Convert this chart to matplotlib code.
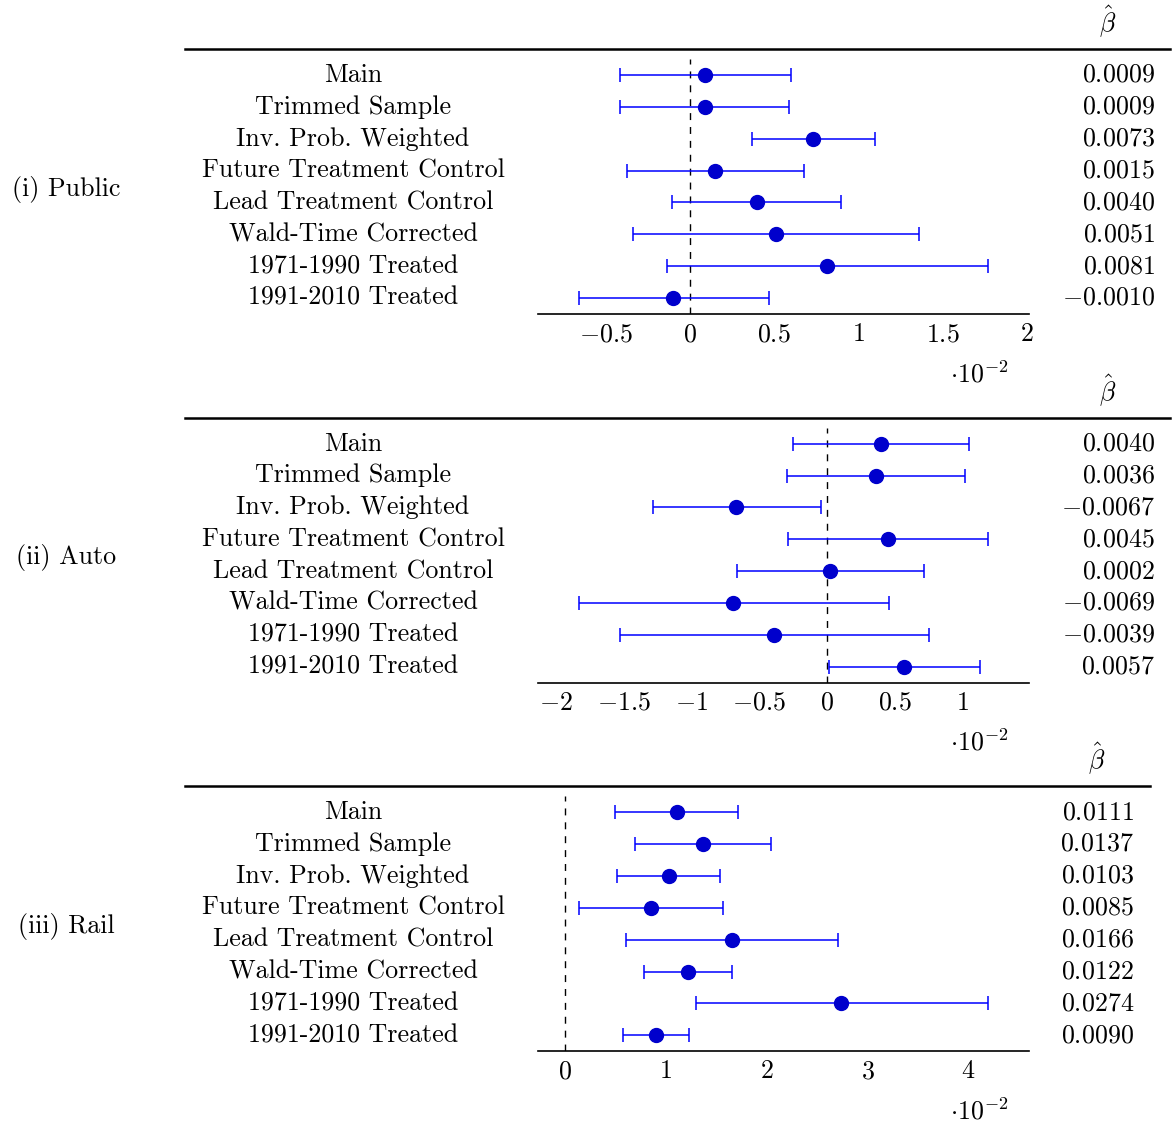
import numpy as np
import matplotlib
matplotlib.use("Agg")
import matplotlib.pyplot as plt
from matplotlib.ticker import FuncFormatter
import matplotlib.transforms as mtransforms

plt.rcParams['font.family'] = 'cmr10'
plt.rcParams['mathtext.fontset'] = 'cm'
plt.rcParams['axes.unicode_minus'] = False
plt.rcParams['axes.formatter.use_mathtext'] = True

FS = 18.7

specs = ["Main", "Trimmed Sample", "Inv. Prob. Weighted", "Future Treatment Control",
         "Lead Treatment Control", "Wald-Time Corrected", "1971-1990 Treated",
         "1991-2010 Treated"]

groups = ["(i) Public", "(ii) Auto", "(iii) Rail"]

# point estimates
beta_public = [0.0009, 0.0009, 0.0073, 0.0015, 0.0040, 0.0051, 0.0081, -0.0010]
beta_auto = [0.0040, 0.0036, -0.0067, 0.0045, 0.0002, -0.0069, -0.0039, 0.0057]
beta_rail = [0.0111, 0.0137, 0.0103, 0.0085, 0.0166, 0.0122, 0.0274, 0.0090]

# 95% confidence bounds
lo_public = [-0.00414, -0.00414, 0.00370, -0.00378, -0.00105, -0.00338, -0.00140, -0.00661]
hi_public = [0.00601, 0.00586, 0.01098, 0.00678, 0.00898, 0.01361, 0.01770, 0.00471]
lo_auto = [-0.00248, -0.00295, -0.01284, -0.00285, -0.00660, -0.01829, -0.01527, 0.00015]
hi_auto = [0.01048, 0.01016, -0.00044, 0.01188, 0.00714, 0.00454, 0.00751, 0.01132]
lo_rail = [0.00501, 0.00696, 0.00512, 0.00139, 0.00610, 0.00788, 0.01297, 0.00574]
hi_rail = [0.01719, 0.02043, 0.01538, 0.01567, 0.02709, 0.01659, 0.04194, 0.01228]

ticks_public = [-0.5, 0, 0.5, 1, 1.5, 2]
ticks_auto = [-2, -1.5, -1, -0.5, 0, 0.5, 1]
ticks_rail = [0, 1, 2, 3, 4]

W, H = 1173, 1126
fig = plt.figure(figsize=(W / 100, H / 100), dpi=100)

panels = [
    (beta_public, lo_public, hi_public, ticks_public, 59, 1170, 1155),
    (beta_auto, lo_auto, hi_auto, ticks_auto, 427.7, 1170, 1155),
    (beta_rail, lo_rail, hi_rail, ticks_rail, 796.3, 1150, 1134),
]

def fmt(v, pos):
    s = f"{v:g}"
    return f"${s}$"

for g, (beta, lo, hi, ticks, top, rule_end, val_right) in enumerate(panels):
    beta = np.array(beta) * 100
    lo = np.array(lo) * 100
    hi = np.array(hi) * 100
    y = np.arange(len(beta))

    ax_h = 255
    ax = fig.add_axes([538 / W, 1 - (top + ax_h) / H, (1029 - 538) / W, ax_h / H])

    ax.errorbar(beta, y, xerr=[beta - lo, hi - beta], fmt='none', ecolor='#0000ff',
                elinewidth=1.1, capsize=5, capthick=1.1, zorder=2)
    ax.plot(beta, y, 'o', color='#0000cc', markersize=10, zorder=3)
    ax.axvline(0, color='black', linestyle=(0, (5, 5)), linewidth=1.0, zorder=1)

    pad = 0.1 * (hi.max() - lo.min())
    ax.set_xlim(lo.min() - pad, hi.max() + pad)
    ax.set_ylim(len(beta) - 0.5, -0.5)

    for s in ['top', 'right', 'left']:
        ax.spines[s].set_visible(False)
    ax.spines['bottom'].set_linewidth(1.2)
    ax.set_yticks([])
    ax.set_xticks(ticks)
    ax.xaxis.set_major_formatter(FuncFormatter(fmt))
    ax.tick_params(axis='x', length=0, pad=6, labelsize=FS)

    # row labels and estimate column, placed in pixel x / data y
    tr = mtransforms.blended_transform_factory(fig.transFigure, ax.transData)
    for i, name in enumerate(specs):
        ax.text(353 / W, i, name, transform=tr, ha='center', va='center',
                fontsize=FS, clip_on=False)
        ax.text(val_right / W, i, f"${beta[i] / 100:.4f}$", transform=tr,
                ha='right', va='center', fontsize=FS, clip_on=False)

    mid = (len(beta) - 1) / 2
    ax.text(66 / W, mid + 0.08, groups[g], transform=tr, ha='center', va='center',
            fontsize=FS, clip_on=False)

    # header rule and beta-hat heading
    rule_y = 1 - (top - 10) / H
    fig.add_artist(plt.Line2D([185 / W, rule_end / W], [rule_y, rule_y],
                              color='black', linewidth=1.8))
    head_x = (1060 + val_right) / 2
    fig.text(head_x / W, 1 - (top - 37) / H, r"$\hat{\beta}$", ha='center',
             va='center', fontsize=FS)

    # axis scale label
    fig.text(979 / W, 1 - (top + ax_h + 60) / H, r"$\cdot 10^{-2}$", ha='center',
             va='center', fontsize=FS)

fig.savefig("out.png", dpi=100)
